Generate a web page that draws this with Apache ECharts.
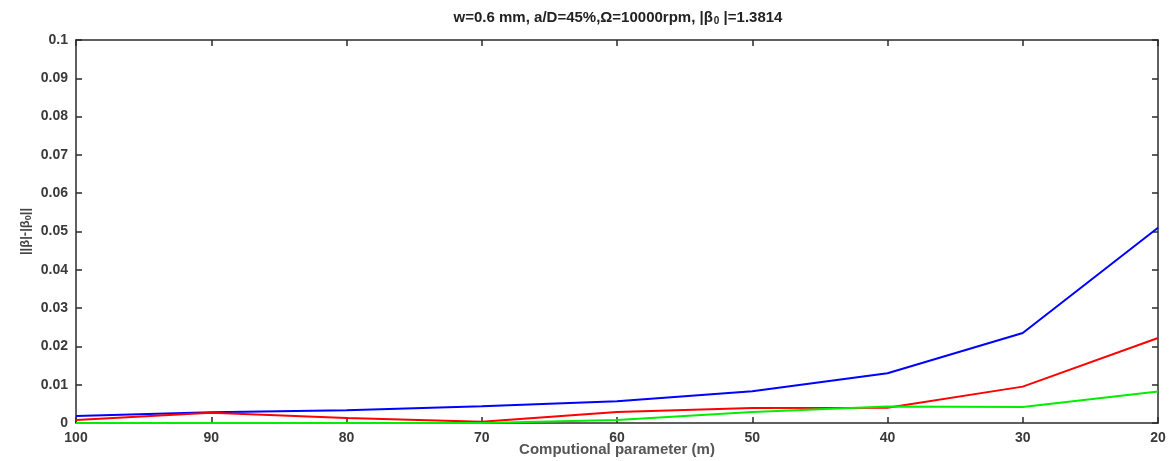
<!DOCTYPE html>
<html>
<head>
<meta charset="utf-8">
<script src="https://cdn.jsdelivr.net/npm/echarts@6/dist/echarts.min.js"></script>
<style>
  html, body { margin: 0; padding: 0; background: #fff; }
  #chart { width: 1169px; height: 461px; }
</style>
</head>
<body>
<div id="chart"></div>
<script>
// Computational parameter m (x axis runs from 100 down to 20)
const mValues = [100, 90, 80, 70, 60, 50, 40, 30, 20];
// ||β|-|β0|| for three cases
const blueSeries  = [0.0018, 0.0028, 0.0033, 0.0044, 0.0057, 0.0083, 0.0130, 0.0235, 0.0510];
const redSeries   = [0.0008, 0.0027, 0.0013, 0.0003, 0.0029, 0.0039, 0.0040, 0.0095, 0.0222];
const greenSeries = [0.0000, 0.0000, 0.0000, 0.0000, 0.0008, 0.0029, 0.0043, 0.0042, 0.0082];
const yTicks = [0, 0.01, 0.02, 0.03, 0.04, 0.05, 0.06, 0.07, 0.08, 0.09, 0.1];

const pairs = arr => mValues.map((m, i) => [m, arr[i]]);
const font = 'Liberation Sans, Arial, sans-serif';
const axisColor = '#2b2b2b';
const labelColor = '#3a3a3a';

const chart = echarts.init(document.getElementById('chart'));
chart.setOption({
  animation: false,
  backgroundColor: '#ffffff',
  title: {
    text: '{t|w=0.6 mm, a/D=45%,Ω=10000rpm, |β}{s|0}{t| |=1.3814}',
    left: 613, top: 4, textAlign: 'center',
    textStyle: {
      rich: {
        t: { fontFamily: font, fontSize: 15, fontWeight: 'bold', color: '#222' },
        s: { fontFamily: font, fontSize: 10, fontWeight: 'bold', color: '#222', verticalAlign: 'bottom', padding: [7, 0, 0, 1] }
      }
    }
  },
  grid: { left: 76, right: 11, top: 40, bottom: 38, containLabel: false, outerBoundsMode: 'none' },
  xAxis: [{
    type: 'value', min: 20, max: 100, interval: 10, inverse: true,
    name: 'Computional parameter (m)', nameLocation: 'middle', nameGap: 19, nameMoveOverlap: false,
    nameTextStyle: { fontFamily: font, fontSize: 15, fontWeight: 'bold', color: '#555' },
    axisLine: { show: true, onZero: false, lineStyle: { color: axisColor, width: 1.5 } },
    axisTick: { show: true, inside: true, length: 6, lineStyle: { color: axisColor, width: 1.5 } },
    axisLabel: { fontFamily: font, fontSize: 14, fontWeight: 'bold', color: labelColor, margin: 8 },
    splitLine: { show: false }
  }, {
    type: 'value', min: 20, max: 100, interval: 10, inverse: true, position: 'top',
    axisLine: { show: true, onZero: false, lineStyle: { color: axisColor, width: 1.5 } },
    axisTick: { show: true, inside: true, length: 6, lineStyle: { color: axisColor, width: 1.5 } },
    axisLabel: { show: false }, splitLine: { show: false }
  }],
  yAxis: [{
    type: 'value', min: 0, max: 0.1, interval: 0.01,
    name: '{t|||β|-|β}{s|0}{t|||}', nameLocation: 'middle', nameGap: 43, nameRotate: 90, nameMoveOverlap: false,
    nameTextStyle: {
      rich: {
        t: { fontFamily: font, fontSize: 13, fontWeight: 'bold', color: '#444' },
        s: { fontFamily: font, fontSize: 9, fontWeight: 'bold', color: '#444', verticalAlign: 'bottom', padding: [6, 0, 0, 0] }
      }
    },
    axisLine: { show: true, onZero: false, lineStyle: { color: axisColor, width: 1.5 } },
    axisTick: { show: true, inside: true, length: 6, lineStyle: { color: axisColor, width: 1.5 } },
    axisLabel: {
      fontFamily: font, fontSize: 14, fontWeight: 'bold', color: labelColor, margin: 8,
      formatter: v => String(+v.toFixed(2))
    },
    splitLine: { show: false }
  }, {
    type: 'value', min: 0, max: 0.1, interval: 0.01, position: 'right',
    axisLine: { show: true, onZero: false, lineStyle: { color: axisColor, width: 1.5 } },
    axisTick: { show: true, inside: true, length: 6, lineStyle: { color: axisColor, width: 1.5 } },
    axisLabel: { show: false }, splitLine: { show: false }
  }],
  series: [
    { type: 'line', data: pairs(blueSeries), symbol: 'none', lineStyle: { color: '#0000ff', width: 2 }, z: 3 },
    { type: 'line', data: pairs(redSeries), symbol: 'none', lineStyle: { color: '#ff0000', width: 2 }, z: 4 },
    { type: 'line', data: pairs(greenSeries), symbol: 'none', lineStyle: { color: '#00ee00', width: 2 }, z: 5 }
  ]
});
</script>
</body>
</html>
